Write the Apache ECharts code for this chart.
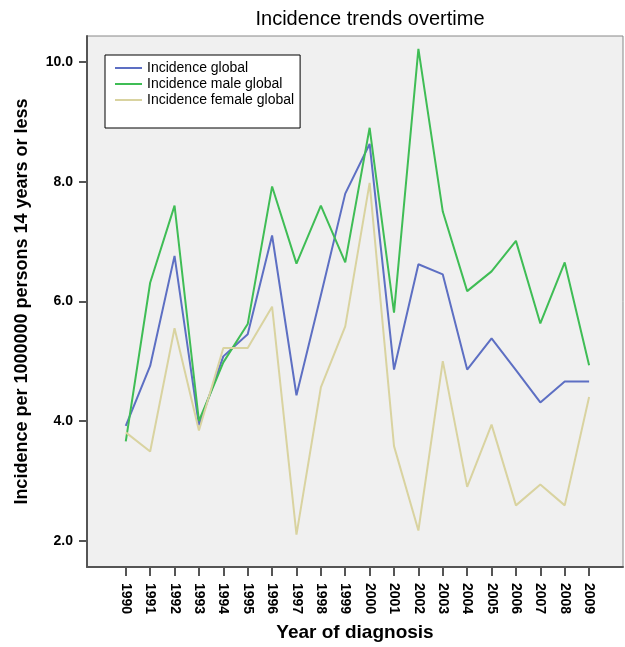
<!DOCTYPE html>
<html>
<head>
<meta charset="utf-8">
<script src="https://cdn.jsdelivr.net/npm/echarts@6/dist/echarts.min.js"></script>
<style>
  html, body { margin: 0; padding: 0; background: #fff; }
  #chart { width: 625px; height: 647px; }
</style>
</head>
<body>
<div id="chart"></div>
<script>
// values
const years = [1990, 1991, 1992, 1993, 1994, 1995, 1996, 1997, 1998, 1999,
               2000, 2001, 2002, 2003, 2004, 2005, 2006, 2007, 2008, 2009]
const incidenceGlobal = [3.92, 4.92, 6.76, 3.93, 5.08, 5.45, 7.10, 4.43, 6.10, 7.80,
                         8.63, 4.86, 6.62, 6.45, 4.86, 5.38, 4.85, 4.31, 4.66, 4.66]
const incidenceMale = [3.66, 6.31, 7.60, 4.00, 4.98, 5.62, 7.92, 6.63, 7.60, 6.65,
                       8.90, 5.81, 10.22, 7.50, 6.17, 6.50, 7.01, 5.63, 6.65, 4.93]
const incidenceFemale = [3.81, 3.49, 5.55, 3.84, 5.22, 5.22, 5.91, 2.10, 4.56, 5.58,
                         7.98, 3.58, 2.17, 5.00, 2.90, 3.94, 2.59, 2.94, 2.59, 4.40]
const yTicks = [2, 4, 6, 8, 10]

const seriesNames = ['Incidence global', 'Incidence male global', 'Incidence female global']
const seriesColors = ['#5d6fc3', '#3fbd55', '#d9d3a0']
const seriesValues = [incidenceGlobal, incidenceMale, incidenceFemale]

const font = 'Liberation Sans, Arial, sans-serif'

const chart = echarts.init(document.getElementById('chart'))

chart.setOption({
  backgroundColor: '#fff',
  animation: false,
  title: {
    text: 'Incidence trends overtime',
    left: 365,
    top: 4,
    textAlign: 'center',
    textStyle: { fontFamily: font, fontSize: 20, fontWeight: 'normal', color: '#000' }
  },
  legend: {
    orient: 'vertical',
    left: 105,
    top: 55,
    data: seriesNames,
    icon: 'rect',
    backgroundColor: '#fff',
    borderColor: '#000',
    borderWidth: 1,
    borderRadius: 0,
    padding: [5, 6, 20, 10],
    itemWidth: 27,
    itemHeight: 2,
    itemGap: 0,
    textStyle: { fontFamily: font, fontSize: 14, lineHeight: 16, color: '#000' }
  },
  grid: {
    left: 87,
    right: 2,
    top: 36,
    bottom: 79,
    show: true,
    backgroundColor: '#f0f0f0',
    borderColor: '#888',
    borderWidth: 1
  },
  xAxis: {
    type: 'value',
    min: 1988.41,
    max: 2010.39,
    name: 'Year of diagnosis',
    nameLocation: 'middle',
    nameGap: 56,
    nameTextStyle: { fontFamily: font, fontSize: 19, fontWeight: 'bold', color: '#000' },
    axisLine: { show: true, lineStyle: { color: '#555', width: 2 } },
    axisTick: { show: true, customValues: years, length: 9, lineStyle: { color: '#555', width: 2 } },
    axisLabel: {
      customValues: years,
      rotate: -90,
      margin: 16,
      fontFamily: font,
      fontSize: 14,
      fontWeight: 'bold',
      color: '#000',
      formatter: v => String(v)
    },
    splitLine: { show: false }
  },
  yAxis: {
    type: 'value',
    min: 1.56,
    max: 10.434,
    name: 'Incidence per 1000000 persons 14 years or less',
    nameLocation: 'middle',
    nameGap: 56,
    nameTextStyle: { fontFamily: font, fontSize: 18, fontWeight: 'bold', color: '#000' },
    axisLine: { show: true, lineStyle: { color: '#555', width: 2 } },
    axisTick: { show: true, customValues: yTicks, length: 8, lineStyle: { color: '#555', width: 2 } },
    axisLabel: {
      customValues: yTicks,
      margin: 14,
      fontFamily: font,
      fontSize: 14,
      fontWeight: 'bold',
      color: '#000',
      formatter: v => v.toFixed(1)
    },
    splitLine: { show: false }
  },
  series: seriesNames.map((name, i) => ({
    name,
    type: 'line',
    symbol: 'none',
    color: seriesColors[i],
    lineStyle: { color: seriesColors[i], width: 2 },
    data: years.map((y, j) => [y, seriesValues[i][j]])
  }))
})
</script>
</body>
</html>
